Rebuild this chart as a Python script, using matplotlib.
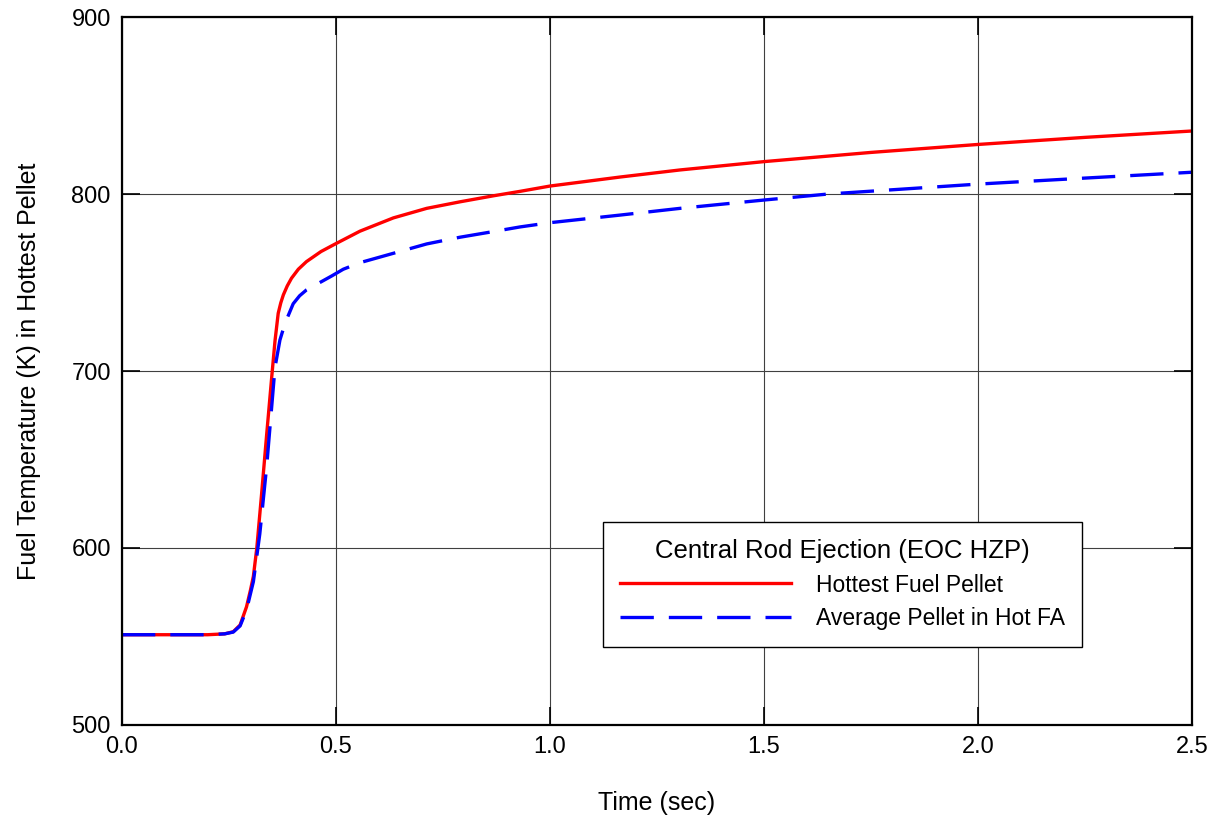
import numpy as np
import matplotlib.pyplot as plt

plt.rcParams['font.family'] = ['Liberation Sans', 'DejaVu Sans']

# hottest fuel pellet temperature (K) vs time (s)
t_hot = [0.0, 0.2, 0.24, 0.26, 0.276, 0.291, 0.30, 0.307, 0.315, 0.326, 0.338,
         0.35, 0.3575, 0.365, 0.371, 0.377, 0.386, 0.396, 0.412, 0.431, 0.465,
         0.5, 0.556, 0.634, 0.712, 0.790, 0.868, 0.930, 1.0, 1.164, 1.304,
         1.5, 1.75, 2.0, 2.25, 2.5]
T_hot = [551, 551, 551.5, 552.7, 556.5, 566.8, 576, 584, 600, 630, 664,
         697, 717, 732.6, 738.5, 743, 748, 752.4, 757.5, 761.8, 767.5,
         772, 779, 786.5, 791.9, 795.6, 799, 801.5, 804.5, 809.6, 813.6,
         818.3, 823.5, 828, 832, 835.6]

# average pellet in hot FA
t_avg = [0.0, 0.2, 0.24, 0.26, 0.276, 0.291, 0.307, 0.322, 0.338, 0.3575,
         0.369, 0.381, 0.40, 0.415, 0.431, 0.49, 0.517, 0.556, 0.634, 0.712,
         0.790, 0.868, 0.930, 1.0, 1.164, 1.304, 1.5, 1.65, 2.0, 2.25, 2.5]
T_avg = [551, 551, 551.5, 552.5, 556, 565, 581, 608, 646, 702,
         717.5, 727, 738, 742.5, 745.8, 753.7, 757.5, 761.2, 766.5, 771.8,
         775.6, 778.8, 781.4, 783.8, 788.1, 791.9, 796.6, 800, 805.6, 809, 812.3]

fig = plt.figure(figsize=(12.21, 8.18), dpi=100)
ax = fig.add_axes([0.0999, 0.1137, 0.8764, 0.8655])

ax.plot(t_hot, T_hot, color='#ff0000', lw=2.4, label='Hottest Fuel Pellet')
ax.plot(t_avg, T_avg, color='#0000ff', lw=2.4, dashes=(10, 4.5),
        label='Average Pellet in Hot FA')

ax.set_xlim(0, 2.5)
ax.set_ylim(500, 900)
ax.set_xticks(np.arange(0, 2.51, 0.5))
ax.set_yticks(np.arange(500, 901, 100))
ax.xaxis.set_major_formatter(plt.FormatStrFormatter('%.1f'))
ax.grid(True, color='0.25', lw=0.8)
ax.tick_params(direction='in', length=13, width=1.2, top=True, right=True,
               labelsize=17, pad=8)
for s in ax.spines.values():
    s.set_linewidth(1.6)

ax.set_xlabel('Time (sec)', fontsize=18, labelpad=24)
ax.set_ylabel('Fuel Temperature (K) in Hottest Pellet', fontsize=18, labelpad=22)

leg = ax.legend(title='Central Rod Ejection (EOC HZP)', loc='upper left',
                bbox_to_anchor=(0.4495, 0.2867), borderaxespad=0, fontsize=16.5,
                title_fontsize=18.5, handlelength=7.45, fancybox=False,
                framealpha=1, edgecolor='black', borderpad=0.75,
                handletextpad=1.1, labelspacing=0.45)
leg.get_frame().set_linewidth(1.0)

fig.savefig('out.png', dpi=100)
